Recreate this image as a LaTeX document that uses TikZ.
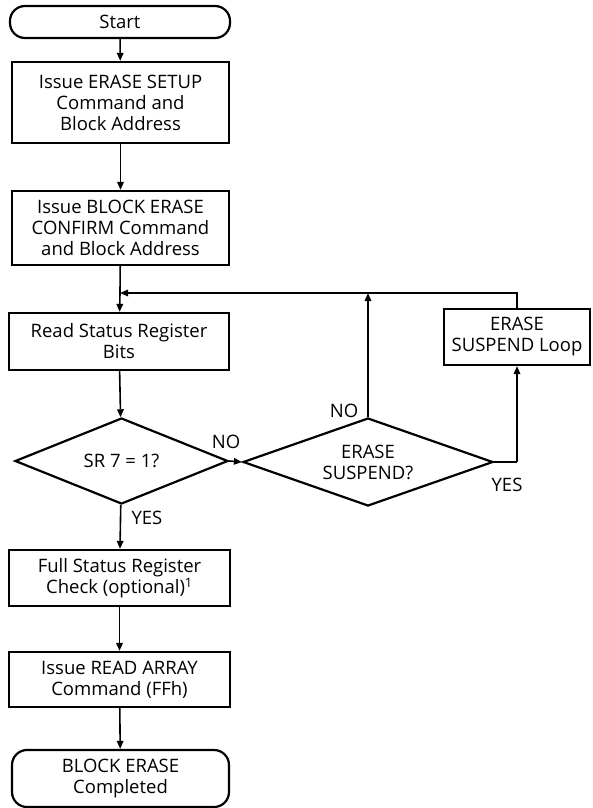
\documentclass[tikz,border=0pt]{standalone}
\usepackage{fontspec}
\setmainfont{Open Sans}
\usetikzlibrary{shapes.geometric,arrows.meta}
\begin{document}
\begin{tikzpicture}[x=1pt,y=1pt,
  font=\fontsize{18.5}{21}\selectfont,
  box/.style={draw,line width=2.2pt,rectangle,inner sep=0pt,align=center},
  term/.style={box,rounded corners=15pt},
  decision/.style={draw,line width=2.2pt,diamond,inner sep=0pt,align=center},
  flow/.style={line width=1.6pt,-{Triangle[length=8pt,width=6.5pt]}},
  plain/.style={line width=1.6pt},
  lbl/.style={inner sep=0pt}]
\useasboundingbox (0,0) rectangle (592,-808);

\node[term,minimum width=220pt,minimum height=32pt] (start) at (120,-22) {Start};
\node[box,minimum width=217pt,minimum height=81pt] (setup) at (120.5,-102.5)
  {Issue ERASE SETUP\\Command and\\Block Address};
\node[box,minimum width=217pt,minimum height=74pt] (confirm) at (120.5,-228)
  {Issue BLOCK ERASE\\CONFIRM Command\\and Block Address};
\coordinate (merge) at (120,-293);
\node[box,minimum width=220pt,minimum height=57pt] (read) at (119,-341.5)
  {Read Status Register\\Bits};
\node[decision,aspect=2.48,minimum width=213pt,minimum height=86pt] (sr7) at (121.5,-461)
  {SR 7 = 1?};
\node[decision,aspect=2.84,minimum width=250pt,minimum height=88pt] (susp) at (368,-462)
  {ERASE\\SUSPEND?};
\node[box,minimum width=146pt,minimum height=56pt] (loop) at (517,-337)
  {ERASE\\SUSPEND Loop};
\node[box,minimum width=221pt,minimum height=56pt] (full) at (119.5,-578)
  {Full Status Register\\Check (optional)\textsuperscript{1}};
\node[box,minimum width=221pt,minimum height=55pt] (array) at (119.5,-679.5)
  {Issue READ ARRAY\\Command (FFh)};
\node[term,minimum width=217pt,minimum height=57pt] (done) at (120.5,-778.5)
  {BLOCK ERASE\\Completed};

\coordinate (looptop) at (loop.north |- merge);
\coordinate (suspright) at (loop.south |- susp.east);

\draw[flow] (start) -- (setup);
\draw[flow] (setup) -- (confirm);
\draw[plain] (confirm) -- (merge);
\draw[flow] (merge) -- (read);
\draw[flow] (read) -- (sr7);
\draw[flow] (sr7.east) -- (susp.west);
\draw[flow] (susp.north) -- (susp.north |- merge);
\draw[flow] (loop.north) -- (looptop) -- (merge);
\draw[plain] (susp.east) -- (suspright);
\draw[flow] (suspright) -- (loop.south);
\draw[flow] (sr7) -- (full);
\draw[flow] (full) -- (array);
\draw[flow] (array) -- (done);

\node[lbl] (no1) at (226,-442) {NO};
\node[lbl] (no2) at (344,-411) {NO};
\node[lbl] (yes1) at (147,-518) {YES};
\node[lbl] (yes2) at (507,-485) {YES};
\end{tikzpicture}
\end{document}
